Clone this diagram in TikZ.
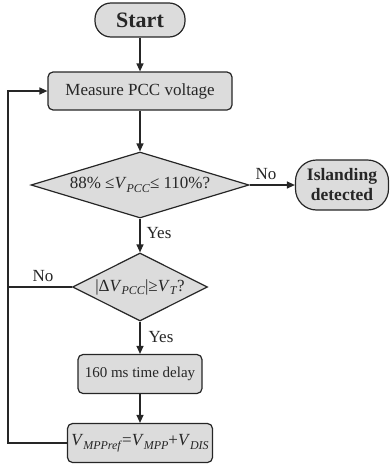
\documentclass[tikz,border=0pt]{standalone}
\usepackage{fontspec}
\setmainfont{Liberation Serif}
\usetikzlibrary{shapes.geometric,arrows.meta}
\definecolor{boxfill}{HTML}{DCDCDC}
\definecolor{ink}{HTML}{262626}
\newcommand\vsub[2]{\textit{#1}\raisebox{-0.45ex}{\fontsize{12}{12}\selectfont\textit{#2}}}
\begin{document}
\begin{tikzpicture}[x=1pt,y=-1pt,
  every node/.style={text=ink},
  base/.style={draw=ink,line width=1.2pt,fill=boxfill,inner sep=0pt,align=center,font=\fontsize{17}{19}\selectfont},
  procbox/.style={base,rectangle,rounded corners=5pt},
  termbox/.style={base,rectangle,rounded corners=16pt},
  decbox/.style={base,diamond},
  lbl/.style={font=\fontsize{17}{19}\selectfont,inner sep=0pt},
  conn/.style={draw=ink,line width=1.2pt,-{Triangle[length=8pt,width=7pt]}},
  plain/.style={draw=ink,line width=1.2pt}]
\useasboundingbox (0,0) rectangle (389,466);

\node[termbox,minimum width=90pt,minimum height=34pt,font=\fontsize{22}{24}\selectfont\bfseries] (start) at (140,20) {Start};
\node[procbox,minimum width=184pt,minimum height=38pt] (meas) at (140,91) {Measure PCC voltage};
\node[decbox,minimum width=218pt,minimum height=66pt] (d1) at (140,185) {};
\node[lbl] (d1t) at (140,185) {88\% ≤\vsub{V}{PCC}≤ 110\%?};
\node[termbox,rounded corners=21pt,minimum width=93pt,minimum height=50pt,font=\fontsize{17.5}{20}\selectfont\bfseries] (isl) at (342,185) {Islanding\\detected};
\node[decbox,minimum width=135pt,minimum height=68pt] (d2) at (140,287) {};
\node[lbl] (d2t) at (140,287) {|Δ\vsub{V}{PCC}|≥\vsub{V}{T}?};
\node[procbox,minimum width=124pt,minimum height=39pt,font=\fontsize{15}{17}\selectfont] (delay) at (140,374) {160 ms time delay};
\node[procbox,minimum width=145pt,minimum height=39pt] (upd) at (140,443) {\vsub{V}{MPPref}=\vsub{V}{MPP}+\vsub{V}{DIS}};

\coordinate (lb) at (8,443);
\coordinate (lt) at (8,91);
\coordinate (lm) at (8,287);

\draw[conn] (start) -- (meas);
\draw[conn] (meas) -- (d1);
\draw[conn] (d1) -- (isl);
\draw[conn] (d1) -- (d2);
\draw[conn] (d2) -- (delay);
\draw[conn] (delay) -- (upd);
\draw[conn] (upd.west) -- (lb) -- (lt) -- (meas.west);
\draw[plain] (d2.west) -- (lm);

\node[lbl] (no1) at (266,174) {No};
\node[lbl] (yes1) at (159,233) {Yes};
\node[lbl] (no2) at (43,276) {No};
\node[lbl] (yes2) at (161,337) {Yes};
\end{tikzpicture}
\end{document}
